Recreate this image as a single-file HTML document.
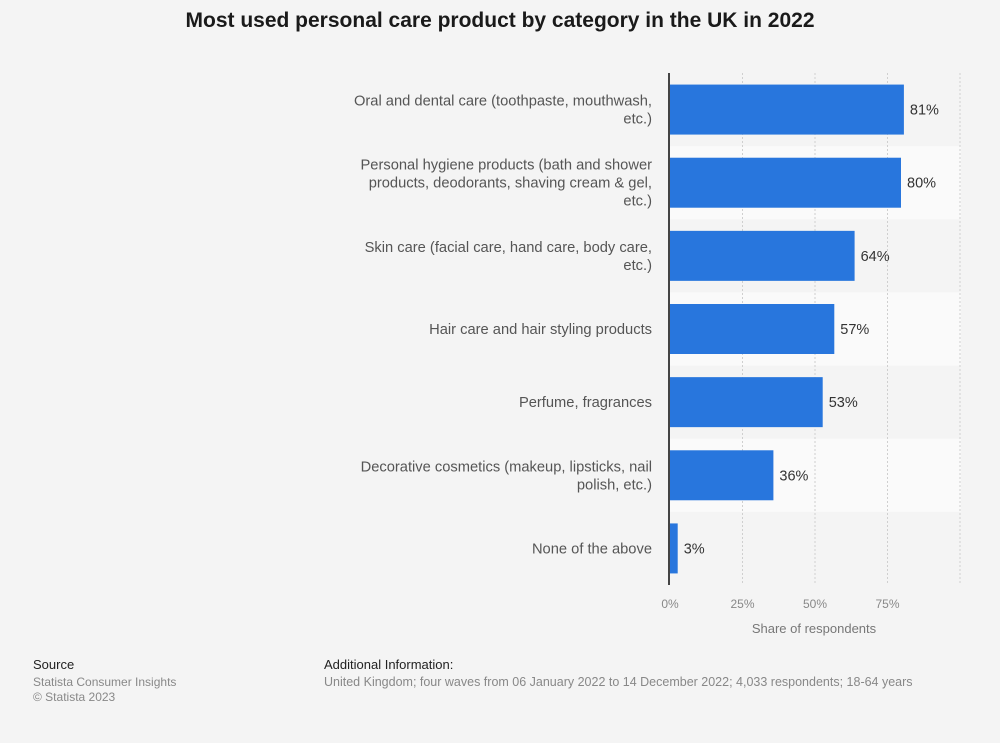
<!DOCTYPE html>
<html><head><meta charset="utf-8">
<style>
body{margin:0;background:#f4f4f4;font-family:"Liberation Sans",sans-serif;}
#wrap{position:relative;width:1000px;height:743px;background:#f4f4f4;overflow:hidden}
.t{position:absolute}
</style></head>
<body>
<div id="wrap">
<div class="t" style="left:0;width:1000px;top:9px;text-align:center;font-size:21px;font-weight:bold;color:#1a1a1a">Most used personal care product by category in the UK in 2022</div>
<svg id="chart" width="1000" height="743" style="position:absolute;left:0;top:0"></svg>
<div class="t" style="left:33px;top:657px;font-size:13px;color:#222">Source</div>
<div class="t" style="left:33px;top:675px;font-size:12px;color:#888;line-height:15px">Statista Consumer Insights<br>© Statista 2023</div>
<div class="t" style="left:324px;top:657px;font-size:13px;color:#222">Additional Information:</div>
<div class="t" style="left:324px;top:675px;font-size:12.5px;color:#888">United Kingdom; four waves from 06 January 2022 to 14 December 2022; 4,033 respondents; 18-64 years</div>
</div>
<script>
const categories=[
 ["Oral and dental care (toothpaste, mouthwash,","etc.)"],
 ["Personal hygiene products (bath and shower","products, deodorants, shaving cream & gel,","etc.)"],
 ["Skin care (facial care, hand care, body care,","etc.)"],
 ["Hair care and hair styling products"],
 ["Perfume, fragrances"],
 ["Decorative cosmetics (makeup, lipsticks, nail","polish, etc.)"],
 ["None of the above"]
];
const values=[81,80,64,57,53,36,3];
const ticks=[0,25,50,75,100];
const tickLabels=["0%","25%","50%","75%",""];

const NS="http://www.w3.org/2000/svg";
const svg=document.getElementById('chart');
const x0=669,x1=959,yTop=73,yBot=585;
const xs=v=>x0+(v/100)*(x1-x0);
const band=(yBot-yTop)/categories.length;
const ys=i=>yTop+i*band;
function mk(t,a){const e=document.createElementNS(NS,t);for(const k in a)e.setAttribute(k,a[k]);svg.appendChild(e);return e;}
categories.forEach((c,i)=>{
 if(i%2===1){const r=mk('rect',{x:x0,y:ys(i),width:x1+2-x0,height:band,fill:'#fafafa'});
 
 }
});
ticks.forEach((t,i)=>{
 if(t>0){const l=mk('line',{x1:xs(t)+1,x2:xs(t)+1,y1:yTop,y2:yBot,stroke:'#cfcfcf','stroke-dasharray':'2,2'});
 
 }
 const tx=mk('text',{x:xs(t)+1,y:608,'text-anchor':'middle','font-size':'12',fill:'#888'});
 tx.textContent=tickLabels[i];
 
 
});
categories.forEach((c,i)=>{
 const cy=ys(i)+band/2;
 const b=mk('rect',{x:x0,y:cy-25,width:xs(values[i])-x0,height:50,fill:'#2876dd'});
 
 
 const v=mk('text',{x:xs(values[i])+6,y:cy+5,'font-size':'14.5',fill:'#333'});
 v.textContent=values[i]+'%';
 
 
 const n=c.length,lh=18;
 c.forEach((line,j)=>{
  const t=mk('text',{x:652,y:cy+5+(j-(n-1)/2)*lh,'text-anchor':'end','font-size':'14.7',fill:'#555'});
  t.textContent=line;
  
  
 });
});
const ax=mk('line',{x1:x0,x2:x0,y1:yTop,y2:yBot,stroke:'#444','stroke-width':'2'});


const at=mk('text',{x:814,y:633,'text-anchor':'middle','font-size':'13',fill:'#777'});
at.textContent='Share of respondents';


</script>
</body></html>
